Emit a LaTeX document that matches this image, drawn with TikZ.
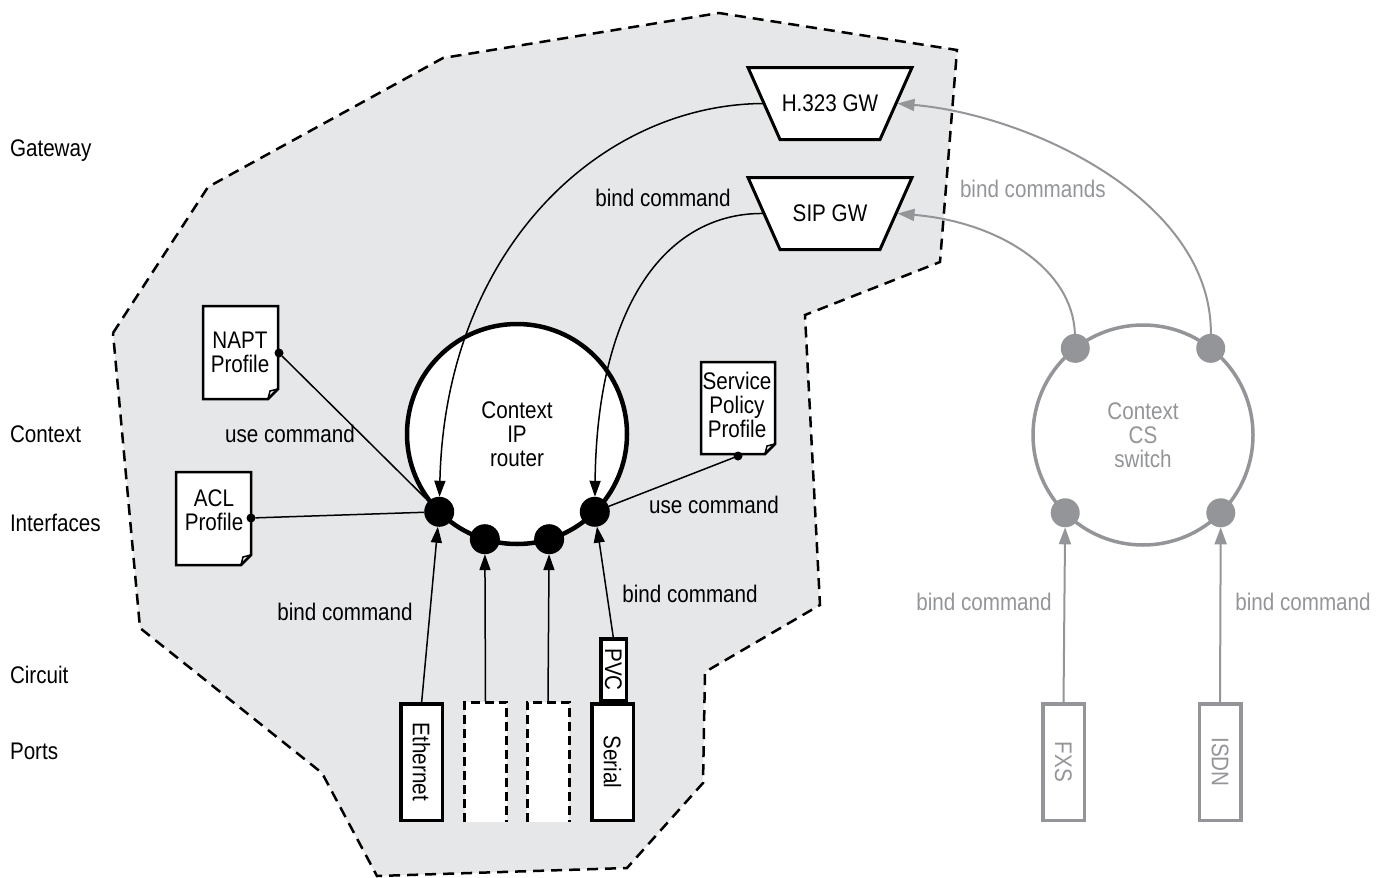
\documentclass[tikz,border=0pt]{standalone}
\usepackage{fontspec}
\setmainfont{Liberation Sans}[FakeStretch=0.86]
\usepackage{graphicx}
\usetikzlibrary{arrows.meta}
\definecolor{zonefill}{HTML}{E6E7E8}
\definecolor{muted}{HTML}{939598}

% page symbol with a folded lower right corner: x1, y1, x2, y2
\newcommand\docpage[4]{%
  \draw[line width=2.5pt, fill=white, line join=miter]
    (#1,#2) -- (#3,#2) -- (#3,#4-10) -- (#3-10,#4) -- (#1,#4) -- cycle;
  \draw[line width=1.5pt, line join=miter] (#3,#4-10) -- (#3-8,#4-8) -- (#3-10,#4);
}
% gateway trapezium: name, centre x, centre y, label
\newcommand\gwbox[4]{%
  \draw[line width=3pt, fill=white, line join=miter]
    (#2-82,#3-36) -- (#2+82,#3-36) -- (#2+50,#3+36) -- (#2-50,#3+36) -- cycle;
  \node (#1) at (#2,#3) {#4};
  \coordinate (#1w) at (#2-66,#3);
  \coordinate (#1e) at (#2+67.5,#3);
}

\begin{document}
\begin{tikzpicture}[x=1pt, y=-1pt,
  every node/.style={font=\fontsize{24}{24}\selectfont, inner sep=0pt, outer sep=0pt},
  tier/.style={anchor=base west},
  ring/.style={circle, draw, line width=4.5pt, fill=white, minimum size=220pt, align=center},
  ifdot/.style={circle, fill=black, minimum size=30pt},
  gdot/.style={circle, fill=muted, minimum size=29pt},
  pin/.style={circle, fill=black, minimum size=9pt},
  portbox/.style={draw, line width=3.5pt, fill=white, minimum width=41.5pt, minimum height=116.5pt},
  slotbox/.style={fill=white, minimum width=42pt, minimum height=120pt},
  slotedge/.style={line width=3pt, dash pattern=on 9pt off 5pt},
  conn/.style={line width=1.5pt, -{Triangle[length=16pt, width=11pt]}},
  gconn/.style={muted, line width=2pt, -{Triangle[length=17pt, width=12pt]}},
  link/.style={line width=1.5pt},
]
\useasboundingbox (0,0) rectangle (1390,878);

% router zone
\draw[fill=zonefill, line width=2.5pt, dash pattern=on 11pt off 7pt, line join=miter]
  (113,333) -- (208,187) -- (443,58) -- (719,13) -- (957,50) -- (940,262)
  -- (805,315) -- (820,605) -- (705,672) -- (703,783) -- (627,868)
  -- (377,876) -- (322,773) -- (140,628) -- cycle;

% layer names
\node[tier] (tgw)  at (10,156) {Gateway};
\node[tier] (tctx) at (10,442) {Context};
\node[tier] (tif)  at (10,531) {Interfaces};
\node[tier] (tcir) at (10,683) {Circuit};
\node[tier] (tpo)  at (10,759) {Ports};

% gateways
\gwbox{h323}{830}{103.5}{H.323 GW}
\gwbox{sip}{830}{213.5}{SIP GW}

% IP router context with its interfaces
\node[ring] (ctx) at (517,434) {Context\\IP\\router};
\node[ifdot] (d1) at (ctx.225) {};
\node[ifdot] (d2) at (ctx.253) {};
\node[ifdot] (d3) at (ctx.287) {};
\node[ifdot] (d4) at (ctx.315) {};

% CS switch context
\node[ring, draw=muted, text=muted, line width=3.5pt] (sw) at (1143,435) {Context\\CS\\switch};
\node[gdot] (gtl) at (sw.128) {};
\node[gdot] (gtr) at (sw.52) {};
\node[gdot] (gbl) at (sw.225) {};
\node[gdot] (gbr) at (sw.315) {};

% profiles
\docpage{203}{306}{278}{399}
\node[align=center] (napt) at (240,352) {NAPT\\Profile};
\node[pin] (naptpin) at (279,353) {};
\docpage{176}{472}{251}{565}
\node[align=center] (acl) at (214,510) {ACL\\Profile};
\node[pin] (aclpin) at (251,518) {};
\docpage{701}{362}{775}{454}
\node[align=center] (spp) at (737,405) {Service\\Policy\\Profile};
\node[pin] (spppin) at (738,456) {};

% ports and circuit
\node[portbox] (eth) at (421.5,762) {\rotatebox{-90}{Ethernet}};
\node[slotbox] (slotA) at (485.5,762) {};
\draw[slotedge] (slotA.south west) -- (slotA.north west) -- (slotA.north east) -- (slotA.south east);
\node[slotbox] (slotB) at (548,762) {};
\draw[slotedge] (slotB.south west) -- (slotB.north west) -- (slotB.north east) -- (slotB.south east);
\node[portbox, minimum width=25.5pt, minimum height=61.5pt] (pvc) at (613.5,669.5) {\rotatebox{-90}{PVC}};
\node[portbox] (ser) at (612.5,762) {\rotatebox{-90}{Serial}};
\node[portbox, draw=muted, text=muted] (fxs) at (1063.5,762) {\rotatebox{-90}{FXS}};
\node[portbox, draw=muted, text=muted] (isdn) at (1220,762) {\rotatebox{-90}{ISDN}};

% use commands
\draw[link] (naptpin) -- (d1);
\draw[link] (aclpin) -- (d1);
\draw[link] (spppin) -- (d4);

% bind commands
\draw[conn] (h323w) .. controls (600,104) and (445,250) .. (d1);
\draw[conn] (sipw) .. controls (670,212) and (597,300) .. (d4);
\draw[conn] (eth.north) -- (d1);
\draw[conn] (slotA.north) -- (d2);
\draw[conn] (slotB.north) -- (d3);
\draw[conn] (pvc.north) -- (d4);
\draw[gconn] (fxs.north) -- (gbl);
\draw[gconn] (isdn.north) -- (gbr);
\draw[gconn] (gtr) .. controls (1212,200) and (1030,115) .. (h323e);
\draw[gconn] (gtl) .. controls (1073,270) and (1000,222) .. (sipe);

% connector labels
\node[anchor=base] (lbind1) at (663,206) {bind command};
\node[anchor=base west, text=muted] (lbinds) at (960,197) {bind commands};
\node[anchor=base] (luse1) at (290,442) {use command};
\node[anchor=base] (luse2) at (714,513) {use command};
\node[anchor=base] (lbind2) at (345,620) {bind command};
\node[anchor=base] (lbind3) at (690,602) {bind command};
\node[anchor=base, text=muted] (lbind4) at (984,610) {bind command};
\node[anchor=base, text=muted] (lbind5) at (1303,610) {bind command};
\end{tikzpicture}
\end{document}
